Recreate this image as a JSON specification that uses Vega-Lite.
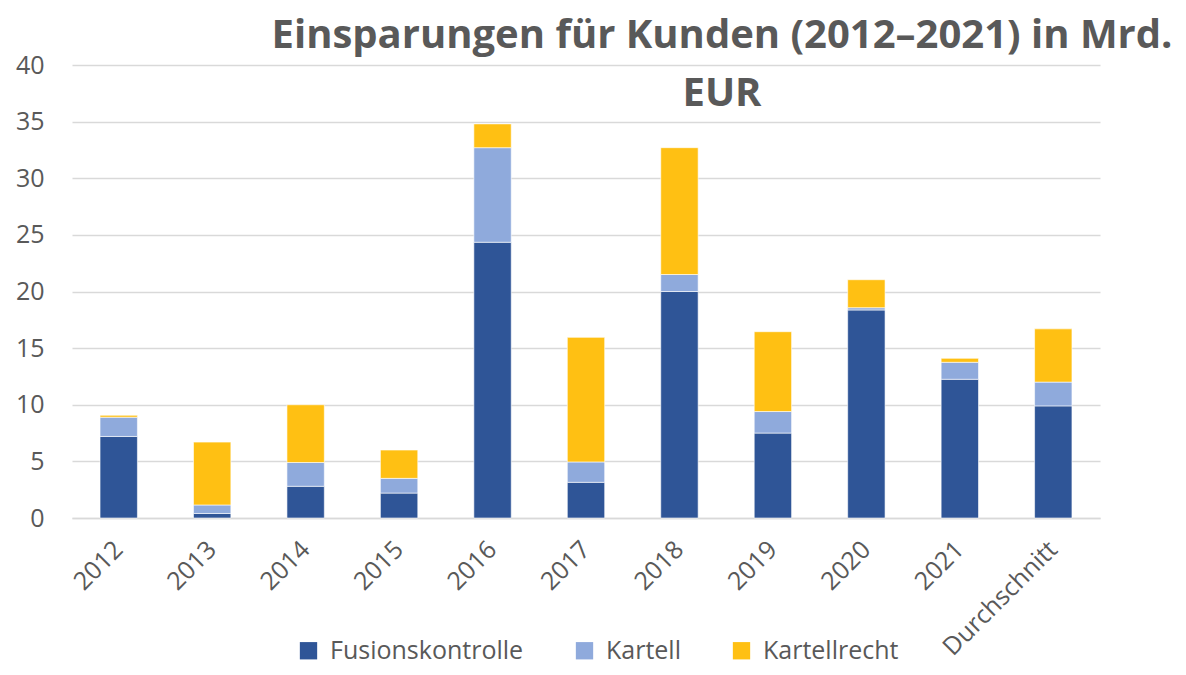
{
  "$schema": "https://vega.github.io/schema/vega-lite/v6.json",
  "autosize": "none",
  "width": 1028,
  "height": 453,
  "padding": {"left": 72, "top": 65, "right": 86, "bottom": 157},
  "background": "#ffffff",
  "title": {
    "text": ["Einsparungen für Kunden (2012–2021) in Mrd.", "EUR"],
    "font": "Open Sans",
    "fontSize": 40,
    "fontWeight": "bold",
    "color": "#595959",
    "anchor": "middle",
    "dx": 136,
    "offset": -61,
    "lineHeight": 58
  },
  "data": {
    "values": [
      {"Jahr": "2012", "Kategorie": "Fusionskontrolle", "Wert": 7.2},
      {"Jahr": "2012", "Kategorie": "Kartell", "Wert": 1.7},
      {"Jahr": "2012", "Kategorie": "Kartellrecht", "Wert": 0.17},
      {"Jahr": "2013", "Kategorie": "Fusionskontrolle", "Wert": 0.4},
      {"Jahr": "2013", "Kategorie": "Kartell", "Wert": 0.75},
      {"Jahr": "2013", "Kategorie": "Kartellrecht", "Wert": 5.55},
      {"Jahr": "2014", "Kategorie": "Fusionskontrolle", "Wert": 2.8},
      {"Jahr": "2014", "Kategorie": "Kartell", "Wert": 2.1},
      {"Jahr": "2014", "Kategorie": "Kartellrecht", "Wert": 5.1},
      {"Jahr": "2015", "Kategorie": "Fusionskontrolle", "Wert": 2.2},
      {"Jahr": "2015", "Kategorie": "Kartell", "Wert": 1.3},
      {"Jahr": "2015", "Kategorie": "Kartellrecht", "Wert": 2.5},
      {"Jahr": "2016", "Kategorie": "Fusionskontrolle", "Wert": 24.35},
      {"Jahr": "2016", "Kategorie": "Kartell", "Wert": 8.35},
      {"Jahr": "2016", "Kategorie": "Kartellrecht", "Wert": 2.1},
      {"Jahr": "2017", "Kategorie": "Fusionskontrolle", "Wert": 3.15},
      {"Jahr": "2017", "Kategorie": "Kartell", "Wert": 1.8},
      {"Jahr": "2017", "Kategorie": "Kartellrecht", "Wert": 11.0},
      {"Jahr": "2018", "Kategorie": "Fusionskontrolle", "Wert": 20.0},
      {"Jahr": "2018", "Kategorie": "Kartell", "Wert": 1.5},
      {"Jahr": "2018", "Kategorie": "Kartellrecht", "Wert": 11.2},
      {"Jahr": "2019", "Kategorie": "Fusionskontrolle", "Wert": 7.5},
      {"Jahr": "2019", "Kategorie": "Kartell", "Wert": 1.9},
      {"Jahr": "2019", "Kategorie": "Kartellrecht", "Wert": 7.05},
      {"Jahr": "2020", "Kategorie": "Fusionskontrolle", "Wert": 18.37},
      {"Jahr": "2020", "Kategorie": "Kartell", "Wert": 0.2},
      {"Jahr": "2020", "Kategorie": "Kartellrecht", "Wert": 2.47},
      {"Jahr": "2021", "Kategorie": "Fusionskontrolle", "Wert": 12.25},
      {"Jahr": "2021", "Kategorie": "Kartell", "Wert": 1.5},
      {"Jahr": "2021", "Kategorie": "Kartellrecht", "Wert": 0.35},
      {"Jahr": "Durchschnitt", "Kategorie": "Fusionskontrolle", "Wert": 9.9},
      {"Jahr": "Durchschnitt", "Kategorie": "Kartell", "Wert": 2.1},
      {"Jahr": "Durchschnitt", "Kategorie": "Kartellrecht", "Wert": 4.7}
    ]
  },
  "mark": {"type": "bar", "stroke": "#ffffff", "strokeWidth": 0.6},
  "encoding": {
    "x": {
      "field": "Jahr",
      "type": "nominal",
      "sort": null,
      "title": null,
      "scale": {"paddingInner": 0.6, "paddingOuter": 0.3},
      "axis": {
        "labelAngle": -45,
        "labelAlign": "right",
        "labelBaseline": "middle",
        "labelFont": "Open Sans",
        "labelFontSize": 25,
        "labelColor": "#595959",
        "labelPadding": 27,
        "ticks": false,
        "domain": true,
        "domainColor": "#D9D9D9",
        "domainWidth": 1.5,
        "grid": false
      }
    },
    "y": {
      "field": "Wert",
      "type": "quantitative",
      "aggregate": "sum",
      "stack": "zero",
      "title": null,
      "scale": {"domain": [0, 40], "nice": false},
      "axis": {
        "values": [0, 5, 10, 15, 20, 25, 30, 35, 40],
        "labelFont": "Open Sans",
        "labelFontSize": 25,
        "labelColor": "#595959",
        "labelPadding": 28,
        "ticks": false,
        "domain": false,
        "grid": true,
        "gridColor": "#D9D9D9",
        "gridWidth": 1.5
      }
    },
    "order": {"field": "Kategorie", "type": "nominal", "sort": "ascending"},
    "color": {
      "field": "Kategorie",
      "type": "nominal",
      "title": null,
      "scale": {
        "domain": ["Fusionskontrolle", "Kartell", "Kartellrecht"],
        "range": ["#2F5597", "#8FAADC", "#FFC013"]
      },
      "legend": {
        "orient": "none",
        "direction": "horizontal",
        "legendX": 224,
        "legendY": 573,
        "padding": 0,
        "symbolType": "square",
        "symbolSize": 300,
        "symbolStrokeWidth": 0,
        "labelFont": "Open Sans",
        "labelFontSize": 25,
        "labelColor": "#595959",
        "labelLimit": 400,
        "labelOffset": 9,
        "columnPadding": 48
      }
    }
  },
  "config": {"view": {"stroke": null}}
}
